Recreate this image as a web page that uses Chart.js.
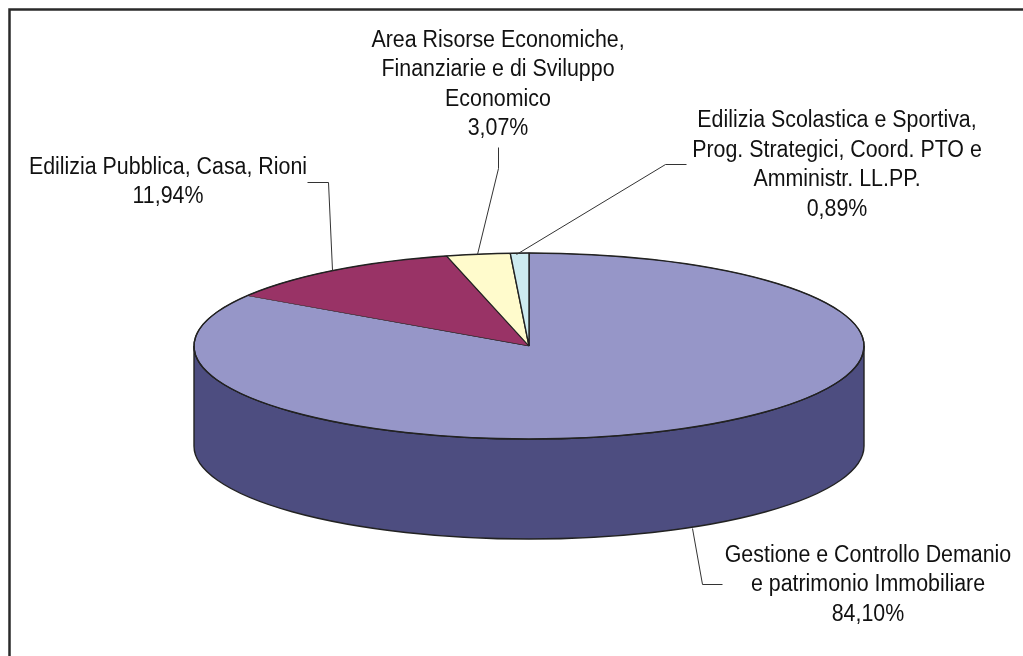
<!DOCTYPE html>
<html><head><meta charset="utf-8">
<style>html,body{margin:0;padding:0;background:#fff}#w{width:1023px;height:656px}canvas{display:block}</style>
<script src="https://cdn.jsdelivr.net/npm/chart.js@4"></script>
</head><body><div id="w"><canvas id="c" width="1023" height="656"></canvas></div>
<script>
const categories = ["Gestione e Controllo Demanio e patrimonio Immobiliare","Edilizia Pubblica, Casa, Rioni","Area Risorse Economiche, Finanziarie e di Sviluppo Economico","Edilizia Scolastica e Sportiva, Prog. Strategici, Coord. PTO e Amministr. LL.PP."];
const values = [84.10, 11.94, 3.07, 0.89];
const labelLines = [
  ["Gestione e Controllo Demanio","e patrimonio Immobiliare","84,10%"],
  ["Edilizia Pubblica, Casa, Rioni","11,94%"],
  ["Area Risorse Economiche,","Finanziarie e di Sviluppo","Economico","3,07%"],
  ["Edilizia Scolastica e Sportiva,","Prog. Strategici, Coord. PTO e","Amministr. LL.PP.","0,89%"]
];
const topColors = ["#9696C8","#993366","#FFFBCC","#CDEBF0"];
const sideColors = ["#4D4D80","#4D1A33","#807D66","#667678"];
const labelCenters = [[868,585],[168,182],[498,84.5],[837,165]];
const labelLineHeight = 29.5;
const leaders = [
  [[692,528],[702,584],[722,584]],
  [[332,270],[328,182],[307,182]],
  [[477,254],[498,168],[498,147]],
  [[516,254],[665,164],[686,164]]
];
const TILT = 0.2776, DEPTH = 100, CX = 529, CY = 346, R = 335;
const TEXT_SCALE_X = 0.93;

const pie3d = {
  id:'pie3d',
  beforeDraw(chart){
    const {ctx}=chart;
    ctx.save();
    ctx.fillStyle='#fff';ctx.fillRect(0,0,1023,656);
    ctx.strokeStyle='#2a2a2a';ctx.lineWidth=2.5;
    ctx.beginPath();ctx.moveTo(9.5,657);ctx.lineTo(9.5,9.5);ctx.lineTo(1024,9.5);ctx.stroke();
    ctx.restore();
  },
  beforeDatasetsDraw(chart){
    const {ctx}=chart, arcs=chart.getDatasetMeta(0).data;
    const c=arcs[0], x=c.x, y=c.y, r=c.outerRadius, ry=r*TILT;
    arcs.forEach((a,i)=>{
      const norm=t=>{const p=Math.PI*2;return ((t%p)+p)%p;};
      let s=norm(a.startAngle), e=s+(a.endAngle-a.startAngle);
      for(const off of [0,Math.PI*2]){
        const from=Math.max(s,off), to=Math.min(e,off+Math.PI);
        if(to<=from) continue;
        ctx.save();
        ctx.beginPath();
        ctx.ellipse(x,y,r,ry,0,from,to,false);
        ctx.ellipse(x,y+DEPTH,r,ry,0,to,from,true);
        ctx.closePath();
        ctx.fillStyle=sideColors[i];ctx.fill();
        ctx.strokeStyle='#222';ctx.lineWidth=1.4;ctx.stroke();
        ctx.restore();
      }
    });
    ctx.save();
    ctx.translate(x,y);ctx.scale(1,TILT);ctx.translate(-x,-y);
  },
  afterDatasetsDraw(chart){
    const {ctx}=chart;
    ctx.restore();
    const arcs=chart.getDatasetMeta(0).data, c=arcs[0];
    ctx.save();
    ctx.beginPath();
    ctx.ellipse(c.x,c.y,c.outerRadius,c.outerRadius*TILT,0,0,Math.PI*2);
    ctx.strokeStyle='#222';ctx.lineWidth=1.4;ctx.stroke();
    ctx.strokeStyle='#333';ctx.lineWidth=1;
    leaders.forEach(l=>{ctx.beginPath();l.forEach((p,i)=>i?ctx.lineTo(p[0]+.5,p[1]+.5):ctx.moveTo(p[0]+.5,p[1]+.5));ctx.stroke();});
    ctx.fillStyle='#111';ctx.font='23px "Liberation Sans", Arial, sans-serif';
    ctx.textAlign='center';ctx.textBaseline='middle';
    labelLines.forEach((ls,i)=>{
      const [lx,ly]=labelCenters[i];
      ls.forEach((t,j)=>{
        ctx.save();
        ctx.translate(lx,ly+(j-(ls.length-1)/2)*labelLineHeight);
        ctx.scale(TEXT_SCALE_X,1);
        ctx.fillText(t,0,0);
        ctx.restore();
      });
    });
    ctx.restore();
  }
};

new Chart(document.getElementById('c'),{
  type:'pie',
  data:{labels:categories,datasets:[{data:values,backgroundColor:topColors,borderColor:'#222',borderWidth:1.4,radius:R,clip:false}]},
  options:{
    responsive:false,animation:false,
    layout:{padding:{left:2*CX-1023,right:0,top:2*CY-656,bottom:0}},
    plugins:{legend:{display:false},tooltip:{enabled:false}}
  },
  plugins:[pie3d]
});
</script></body></html>
